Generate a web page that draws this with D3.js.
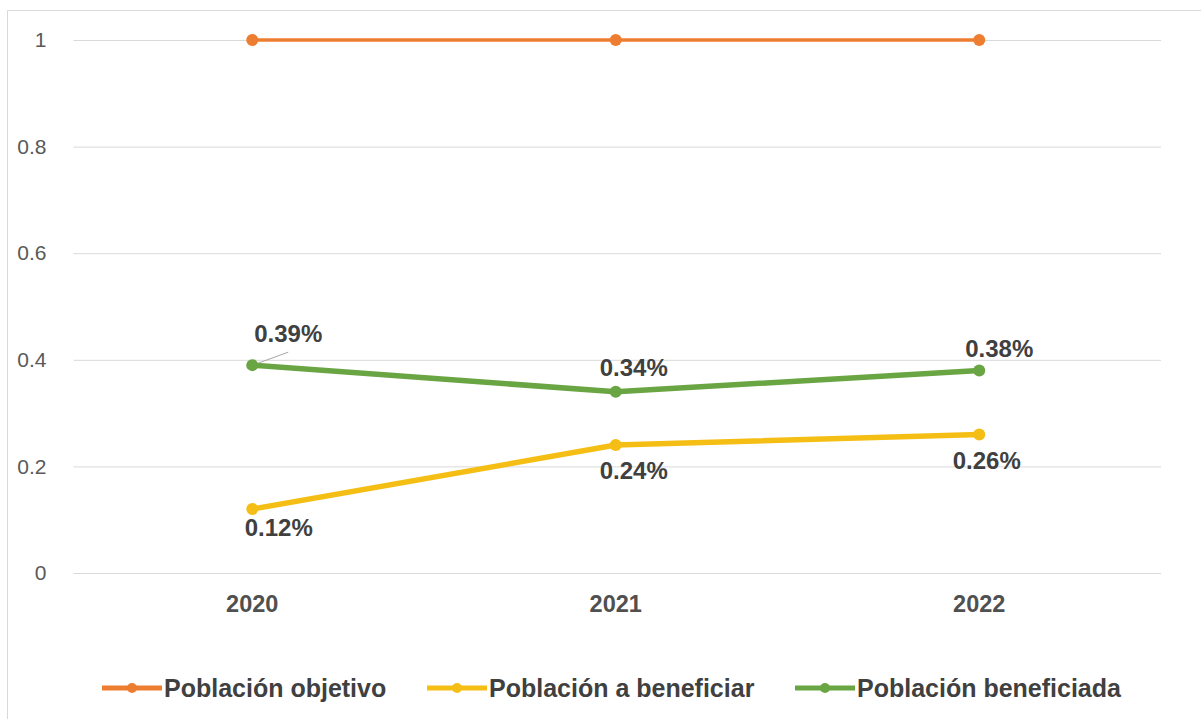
<!DOCTYPE html>
<html>
<head>
<meta charset="utf-8">
<script src="https://cdn.jsdelivr.net/npm/d3@7"></script>
<style>
  body { margin: 0; background: #fff; }
  #chart { width: 1201px; height: 719px; }
</style>
</head>
<body>
<div id="chart"></div>
<script>
const years = ["2020", "2021", "2022"];
const seriesNames = ["Población objetivo", "Población a beneficiar", "Población beneficiada"];
const objetivo = [1, 1, 1];
const aBeneficiar = [0.12, 0.24, 0.26];
const beneficiada = [0.39, 0.34, 0.38];
const yTicks = [0, 0.2, 0.4, 0.6, 0.8, 1];

function renderChart(selector = "#chart") {
    const container = d3.select(selector);
    container.html("");

    const width = 1201;
    const height = 719;
    const margin = { top: 40, right: 40, bottom: 146, left: 70.5 };
    const font = "Liberation Sans, Arial, sans-serif";

    const svg = container.append("svg")
        .attr("width", width)
        .attr("height", height)
        .style("display", "block");

    // frame of the chart area (top + left edges visible)
    svg.append("path")
        .attr("d", `M7.5,${height} V10.5 H${width}`)
        .attr("fill", "none")
        .attr("stroke", "#d9d9d9")
        .attr("stroke-width", 1);

    const x = d3.scaleBand()
        .domain(years)
        .range([margin.left, width - margin.right])
        .padding(0);

    const y = d3.scaleLinear()
        .domain([0, 1])
        .range([height - margin.bottom, margin.top]);

    const cx = d => x(d) + x.bandwidth() / 2;

    // gridlines
    svg.append("g")
        .selectAll("line")
        .data(yTicks)
        .join("line")
        .attr("x1", margin.left + 3)
        .attr("x2", width - margin.right)
        .attr("y1", d => y(d) + 0.5)
        .attr("y2", d => y(d) + 0.5)
        .attr("stroke", "#d9d9d9")
        .attr("stroke-width", 1);

    // y axis labels
    const yAxis = svg.append("g")
        .attr("transform", `translate(${margin.left - 24},0)`)
        .call(d3.axisLeft(y).tickValues(yTicks).tickSize(0).tickPadding(0).tickFormat(d => d3.format("~g")(d)));
    yAxis.select(".domain").remove();
    yAxis.selectAll("text")
        .attr("font-family", font)
        .attr("font-size", 21)
        .attr("fill", "#595959");

    // x axis labels
    const xAxis = svg.append("g")
        .attr("transform", `translate(0,${y(0) + 22})`)
        .call(d3.axisBottom(x).tickSize(0).tickPadding(0));
    xAxis.select(".domain").remove();
    xAxis.selectAll("text")
        .attr("font-family", font)
        .attr("font-size", 23.5)
        .attr("font-weight", "bold")
        .attr("fill", "#505050");

    const series = [
        { name: seriesNames[0], values: objetivo, color: "#ED7D31", width: 3.5, labels: false },
        { name: seriesNames[1], values: aBeneficiar, color: "#F5BE15", width: 5.5, labels: true },
        { name: seriesNames[2], values: beneficiada, color: "#6AA543", width: 5.5, labels: true }
    ];

    const line = d3.line()
        .x(d => cx(d.year))
        .y(d => y(d.value));

    series.forEach(s => {
        const pts = years.map((yr, i) => ({ year: yr, value: s.values[i] }));
        svg.append("path")
            .datum(pts)
            .attr("d", line)
            .attr("fill", "none")
            .attr("stroke", s.color)
            .attr("stroke-width", s.width)
            .attr("stroke-linejoin", "round");
        svg.append("g")
            .selectAll("circle")
            .data(pts)
            .join("circle")
            .attr("cx", d => cx(d.year))
            .attr("cy", d => y(d.value))
            .attr("r", 6)
            .attr("fill", s.color);
    });

    // data labels (offsets in px relative to the point, to label centre)
    const labelOffsets = {
        [seriesNames[1]]: [[26.5, 19], [18, 25.5], [7.5, 26]],
        [seriesNames[2]]: [[36, -31.5], [18, -24], [20, -22]]
    };

    series.filter(s => s.labels).forEach(s => {
        const offs = labelOffsets[s.name];
        svg.append("g")
            .selectAll("text")
            .data(years.map((yr, i) => ({ year: yr, value: s.values[i], off: offs[i] })))
            .join("text")
            .attr("x", d => cx(d.year) + d.off[0])
            .attr("y", d => y(d.value) + d.off[1])
            .attr("dy", "0.35em")
            .attr("text-anchor", "middle")
            .attr("font-family", font)
            .attr("font-size", 24)
            .attr("font-weight", "bold")
            .attr("fill", "#404040")
            .text(d => d.value.toFixed(2) + "%");
    });

    // leader line for the 2020 beneficiada label
    svg.append("line")
        .attr("x1", cx(years[0]) + 6)
        .attr("y1", y(beneficiada[0]) - 2)
        .attr("x2", cx(years[0]) + 36)
        .attr("y2", y(beneficiada[0]) - 13)
        .attr("stroke", "#a6a6a6")
        .attr("stroke-width", 1);

    // legend
    const legendItems = [
        { name: seriesNames[0], color: "#ED7D31", x: 102 },
        { name: seriesNames[1], color: "#F5BE15", x: 427 },
        { name: seriesNames[2], color: "#6AA543", x: 795 }
    ];
    const ly = 688;
    const lg = svg.append("g");
    legendItems.forEach(it => {
        lg.append("line")
            .attr("x1", it.x).attr("x2", it.x + 60)
            .attr("y1", ly).attr("y2", ly)
            .attr("stroke", it.color)
            .attr("stroke-width", 5);
        lg.append("circle")
            .attr("cx", it.x + 30).attr("cy", ly).attr("r", 5)
            .attr("fill", it.color);
        lg.append("text")
            .attr("x", it.x + 62)
            .attr("y", ly)
            .attr("dy", "0.35em")
            .attr("font-family", font)
            .attr("font-size", 25)
            .attr("font-weight", "bold")
            .attr("fill", "#404040")
            .text(it.name);
    });
}

renderChart();
</script>
</body>
</html>
